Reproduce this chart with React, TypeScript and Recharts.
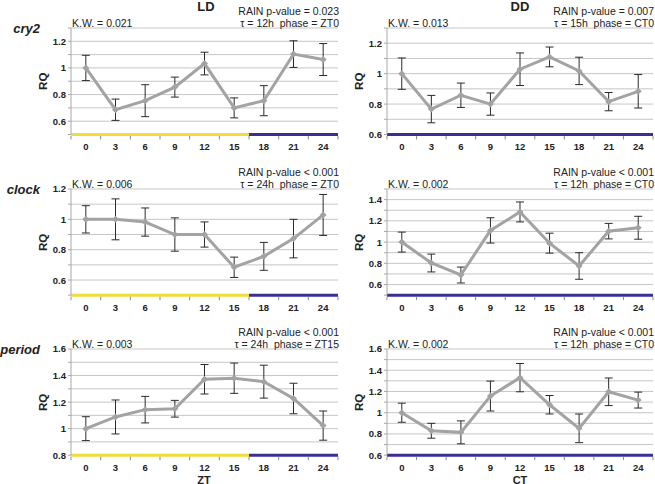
import React from 'react';
import { LineChart, Line, XAxis, YAxis, CartesianGrid, ErrorBar, ReferenceLine } from 'recharts';

// ---- data ----
const hours = [0, 3, 6, 9, 12, 15, 18, 21, 24];
const hourBoundaries = [-1.5, 1.5, 4.5, 7.5, 10.5, 13.5, 16.5, 19.5, 22.5, 25.5];

const cry2LD = [1.0, 0.686, 0.754, 0.856, 1.033, 0.7, 0.754, 1.104, 1.063];
const cry2LDErr = [0.095, 0.08, 0.12, 0.075, 0.085, 0.075, 0.113, 0.1, 0.12];
const cry2DD = [1.0, 0.767, 0.858, 0.8, 1.029, 1.11, 1.018, 0.816, 0.884];
const cry2DDErr = [0.103, 0.09, 0.08, 0.073, 0.107, 0.065, 0.09, 0.06, 0.11];
const clockLD = [1.0, 1.0, 0.982, 0.9, 0.9, 0.684, 0.756, 0.873, 1.029];
const clockLDErr = [0.09, 0.135, 0.093, 0.11, 0.083, 0.067, 0.092, 0.127, 0.135];
const clockDD = [1.0, 0.803, 0.69, 1.11, 1.284, 0.99, 0.775, 1.103, 1.135];
const clockDDErr = [0.094, 0.084, 0.075, 0.119, 0.094, 0.094, 0.125, 0.073, 0.108];
const periodLD = [1.0, 1.088, 1.143, 1.15, 1.372, 1.38, 1.354, 1.227, 1.023];
const periodLDErr = [0.09, 0.128, 0.1, 0.063, 0.111, 0.114, 0.124, 0.115, 0.11];
const periodDD = [1.0, 0.83, 0.815, 1.157, 1.33, 1.075, 0.853, 1.197, 1.119];
const periodDDErr = [0.09, 0.07, 0.108, 0.141, 0.133, 0.087, 0.135, 0.13, 0.075];

const cry2LDTicks = [0.5, 0.6, 0.7, 0.8, 0.9, 1.0, 1.1, 1.2, 1.3];
const cry2DDTicks = [0.6, 0.7, 0.8, 0.9, 1.0, 1.1, 1.2, 1.3];
const clockLDTicks = [0.5, 0.6, 0.7, 0.8, 0.9, 1.0, 1.1, 1.2];
const clockDDTicks = [0.5, 0.6, 0.7, 0.8, 0.9, 1.0, 1.1, 1.2, 1.3, 1.4, 1.5];
const periodLDTicks = [0.8, 0.9, 1.0, 1.1, 1.2, 1.3, 1.4, 1.5, 1.6];
const periodDDTicks = [0.6, 0.7, 0.8, 0.9, 1.0, 1.1, 1.2, 1.3, 1.4, 1.5, 1.6];

const ldPhases = [
  { from: -1.5, to: 16.5, kind: 'light' },
  { from: 16.5, to: 25.5, kind: 'dark' },
];
const ddPhases = [{ from: -1.5, to: 25.5, kind: 'dark' }];

const genes = ['cry2', 'clock', 'period'];
const kwLD = ['K.W. = 0.021', 'K.W. = 0.006', 'K.W. = 0.003'];
const kwDD = ['K.W. = 0.013', 'K.W. = 0.002', 'K.W. = 0.002'];
const rainLD = ['RAIN p-value = 0.023', 'RAIN p-value < 0.001', 'RAIN p-value < 0.001'];
const rainDD = ['RAIN p-value = 0.007', 'RAIN p-value < 0.001', 'RAIN p-value < 0.001'];
const tauLD = ['\u03c4 = 12h  phase = ZT0', '\u03c4 = 24h  phase = ZT0', '\u03c4 = 24h  phase = ZT15'];
const tauDD = ['\u03c4 = 15h  phase = CT0', '\u03c4 = 12h  phase = CT0', '\u03c4 = 12h  phase = CT0'];

// ---- style ----
const FONT = '"Liberation Sans", Arial, Helvetica, sans-serif';
const LINE_COLOR = '#a3a3a3';
const GRID_COLOR = '#c6c6c6';
const LIGHT_COLOR = '#f3dc3a';
const DARK_COLOR = '#3a2f97';
const TEXT_COLOR = '#222';

const XTick = (props: any) => {
  const { x, y, payload } = props;
  const v = payload.value;
  if (Math.abs(v - Math.round(v)) > 0.01) {
    return <line x1={x} x2={x} y1={y + 1.5} y2={y + 5} stroke="#8a8a8a" strokeWidth={1} />;
  }
  return (
    <text x={x} y={y + 12} textAnchor="middle" dominantBaseline="central" fontSize={9.5} fontWeight="bold" fill={TEXT_COLOR} fontFamily={FONT}>
      {String(v)}
    </text>
  );
};

const YTick = (props: any) => {
  const { x, y, payload } = props;
  const v = payload.value;
  const tenth = Math.round(v * 10);
  if (tenth % 2 !== 0) return <g />;
  return (
    <text x={x} y={y} textAnchor="end" dominantBaseline="central" fontSize={9.5} fontWeight="bold" fill={TEXT_COLOR} fontFamily={FONT}>
      {String(Math.round(v * 10) / 10)}
    </text>
  );
};

const Diamond = (props: any) => {
  const { cx, cy } = props;
  if (cx == null || cy == null) return <g />;
  const r = 3.5;
  return <polygon points={`${cx},${cy - r} ${cx + r},${cy} ${cx},${cy + r} ${cx - r},${cy}`} fill={LINE_COLOR} stroke="none" />;
};

type PanelProps = {
  x0: number; x1: number; y0: number; y1: number;
  values: number[]; errs: number[]; ticks: number[]; phases: { from: number; to: number; kind: string }[];
};

function Panel({ x0, x1, y0, y1, values, errs, ticks, phases }: PanelProps) {
  const L = x0 - 40;
  const T = y0 - 10;
  const W = x1 - L + 2;
  const H = y1 - y0 + 10 + 30;
  const data = hours.map((h, i) => ({ h, v: values[i], e: errs[i] }));
  const ymin = ticks[0];
  const ymax = ticks[ticks.length - 1];
  const xTickPositions = [...hourBoundaries, ...hours].sort((a, b) => a - b);
  return (
    <div style={{ position: 'absolute', left: L, top: T }}>
      <LineChart width={W} height={H} data={data} margin={{ top: 10, right: 2, left: 0, bottom: 0 }}>
        <CartesianGrid vertical={false} stroke={GRID_COLOR} strokeWidth={1} />
        <XAxis
          dataKey="h"
          type="number"
          domain={[-1.5, 25.5]}
          ticks={xTickPositions}
          interval={0}
          tickSize={0}
          tickMargin={0}
          axisLine={false}
          tickLine={false}
          height={30}
          tick={XTick}
          allowDataOverflow
        />
        <YAxis
          type="number"
          domain={[ymin, ymax]}
          ticks={ticks}
          interval={0}
          width={40}
          axisLine={{ stroke: '#a8a8a8' }}
          tickLine={{ stroke: '#a8a8a8' }}
          tickSize={3}
          tickMargin={2}
          tick={YTick}
          allowDataOverflow
        />
        {phases.map((p, i) => (
          <ReferenceLine
            key={i}
            segment={[{ x: p.from, y: ymin }, { x: p.to, y: ymin }]}
            stroke={p.kind === 'light' ? LIGHT_COLOR : DARK_COLOR}
            strokeWidth={3}
            ifOverflow="visible"
          />
        ))}
        <Line
          dataKey="v"
          type="linear"
          stroke={LINE_COLOR}
          strokeWidth={3}
          dot={<Diamond />}
          activeDot={false}
          isAnimationActive={false}
        >
          <ErrorBar dataKey="e" direction="y" width={4} stroke="#2a2a2a" strokeWidth={1} isAnimationActive={false} />
        </Line>
      </LineChart>
    </div>
  );
}

const LD_X = { x0: 71, x1: 338 };
const DD_X = { x0: 387, x1: 653 };
const ROWS = [
  { y0: 28, y1: 134.5 },
  { y0: 189.3, y1: 295.5 },
  { y0: 349.3, y1: 455.5 },
];

export default function App() {
  const ldVals = [cry2LD, clockLD, periodLD];
  const ldErrs = [cry2LDErr, clockLDErr, periodLDErr];
  const ddVals = [cry2DD, clockDD, periodDD];
  const ddErrs = [cry2DDErr, clockDDErr, periodDDErr];
  const ldTicks = [cry2LDTicks, clockLDTicks, periodLDTicks];
  const ddTicks = [cry2DDTicks, clockDDTicks, periodDDTicks];

  return (
    <div style={{ position: 'absolute', left: 0, top: 0, width: 655, height: 484, background: '#fff', overflow: 'hidden', fontFamily: FONT }}>
      {ROWS.map((r, i) => (
        <React.Fragment key={i}>
          <Panel {...LD_X} {...r} values={ldVals[i]} errs={ldErrs[i]} ticks={ldTicks[i]} phases={ldPhases} />
          <Panel {...DD_X} {...r} values={ddVals[i]} errs={ddErrs[i]} ticks={ddTicks[i]} phases={ddPhases} />
        </React.Fragment>
      ))}
      <svg width={655} height={484} style={{ position: 'absolute', left: 0, top: 0, pointerEvents: 'none' }}>
        <text x={206} y={6} textAnchor="middle" dominantBaseline="central" fontSize={13} fontWeight="bold" fill={TEXT_COLOR} fontFamily={FONT}>LD</text>
        <text x={520} y={6} textAnchor="middle" dominantBaseline="central" fontSize={13} fontWeight="bold" fill={TEXT_COLOR} fontFamily={FONT}>DD</text>
        <text x={204} y={479.5} textAnchor="middle" dominantBaseline="central" fontSize={11} fontWeight="bold" fill={TEXT_COLOR} fontFamily={FONT}>ZT</text>
        <text x={520} y={479.5} textAnchor="middle" dominantBaseline="central" fontSize={11} fontWeight="bold" fill={TEXT_COLOR} fontFamily={FONT}>CT</text>
        {ROWS.map((r, i) => (
          <g key={i} fontFamily={FONT} fill={TEXT_COLOR}>
            <text x={40} y={r.y0} textAnchor="end" dominantBaseline="central" fontSize={13} fontWeight="bold" fontStyle="italic">{genes[i]}</text>
            {[LD_X, DD_X].map((px, j) => (
              <g key={j}>
                <text x={px.x0 + 1} y={r.y0 - 5.5} dominantBaseline="central" fontSize={10.5}>{j === 0 ? kwLD[i] : kwDD[i]}</text>
                <text x={px.x1 + 1} y={r.y0 - 17} textAnchor="end" dominantBaseline="central" fontSize={10.5}>{j === 0 ? rainLD[i] : rainDD[i]}</text>
                <text x={px.x1 + 1} y={r.y0 - 5} textAnchor="end" dominantBaseline="central" fontSize={10.5} style={{ whiteSpace: 'pre' }}>{j === 0 ? tauLD[i] : tauDD[i]}</text>
                <text
                  x={px.x0 - 28}
                  y={(r.y0 + r.y1) / 2}
                  textAnchor="middle"
                  dominantBaseline="central"
                  fontSize={11.5}
                  fontWeight="bold"
                  transform={`rotate(-90 ${px.x0 - 28} ${(r.y0 + r.y1) / 2})`}
                >RQ</text>
              </g>
            ))}
          </g>
        ))}
      </svg>
    </div>
  );
}
